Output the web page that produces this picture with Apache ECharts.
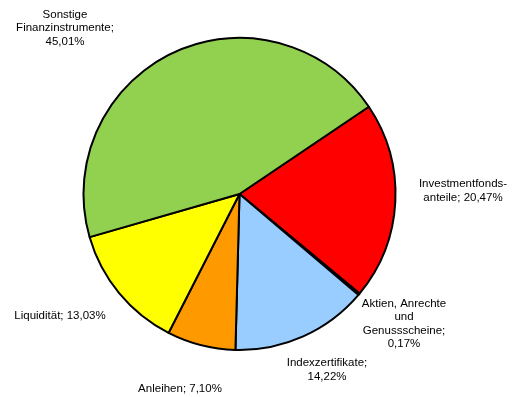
<!DOCTYPE html>
<html><head><meta charset="utf-8">
<script src="https://cdn.jsdelivr.net/npm/echarts@6/dist/echarts.min.js"></script>
<style>html,body{margin:0;padding:0;background:#fff}#c{width:512px;height:397px}</style>
</head><body><div id="c"></div>
<script>
var categories = ['Investmentfonds-\nanteile', 'Aktien, Anrechte\nund\nGenussscheine', 'Indexzertifikate', 'Anleihen', 'Liquidität', 'Sonstige\nFinanzinstrumente'];
var values = [20.47, 0.17, 14.22, 7.10, 13.03, 45.01];
var breakAfterName = [false, true, true, false, false, true];
var colors = ['#FF0000', '#000080', '#99CCFF', '#FF9900', '#FFFF00', '#92D050'];
var labelPos = [[463,191],[404,324],[327,370],[180,389],[60,316],[65,28]];

var chart = echarts.init(document.getElementById('c'), null, {renderer:'canvas'});
chart.setOption({
  animation:false,
  series:[{
    type:'pie',
    center:[239.5,194],
    radius:156,
    startAngle:34,
    clockwise:true,
    avoidLabelOverlap:false,
    data: categories.map(function(n,i){return {name:n, value:values[i], itemStyle:{color:colors[i]}};}),
    itemStyle:{borderColor:'#000', borderWidth:2},
    emphasis:{disabled:true},
    label:{
      show:true, position:'outside', color:'#000',
      fontFamily:'Liberation Sans, Arial, sans-serif', fontSize:11.5, lineHeight:13.5,
      align:'center',
      formatter:function(p){
        var v = values[p.dataIndex].toFixed(2).replace('.',',') + '%';
        return p.name + (breakAfterName[p.dataIndex] ? ';\n' : '; ') + v;
      }
    },
    labelLine:{show:false},
    labelLayout:function(params){
      var pos = labelPos[params.dataIndex];
      return {x:pos[0], y:pos[1], align:'center', verticalAlign:'middle'};
    }
  }]
});
</script></body></html>
